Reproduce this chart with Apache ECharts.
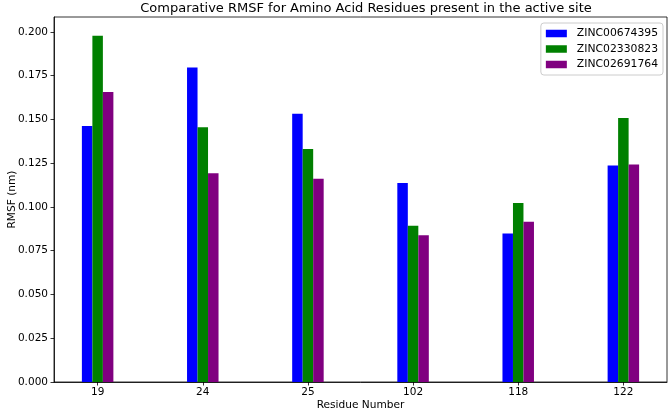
<!DOCTYPE html>
<html>
<head>
<meta charset="utf-8">
<script src="https://cdn.jsdelivr.net/npm/echarts@6/dist/echarts.min.js"></script>
<style>html,body{margin:0;padding:0;background:#fff}#c{width:669px;height:415px}</style>
</head>
<body>
<div id="c"></div>
<script>
const residues = ['19', '24', '25', '102', '118', '122'];
const zinc00674395 = [0.1463, 0.1797, 0.1532, 0.1137, 0.0848, 0.1237];
const zinc02330823 = [0.1978, 0.1455, 0.1331, 0.0893, 0.1023, 0.1508];
const zinc02691764 = [0.1657, 0.1193, 0.1161, 0.0838, 0.0915, 0.1243];
const seriesNames = ['ZINC00674395', 'ZINC02330823', 'ZINC02691764'];
const seriesColors = ['#0000ff', '#008000', '#800080'];
const yTicks = [0, 0.025, 0.05, 0.075, 0.1, 0.125, 0.15, 0.175, 0.2];

const font = 'DejaVu Sans';
const xIdx = residues.map((r, i) => i);
const mk = arr => arr.map((v, i) => [i, v]);
const allData = [zinc00674395, zinc02330823, zinc02691764];

const chart = echarts.init(document.getElementById('c'), null, {renderer: 'canvas'});
chart.setOption({
  animation: false,
  backgroundColor: '#fff',
  title: {
    text: 'Comparative RMSF for Amino Acid Residues present in the active site',
    left: 361, top: -3, textAlign: 'center',
    textStyle: {fontFamily: font, fontSize: 13, fontWeight: 'normal', color: '#000'}
  },
  legend: {
    orient: 'vertical', right: 6, top: 23,
    data: seriesNames,
    itemWidth: 21, itemHeight: 7.5, itemGap: 2.5,
    padding: [4, 5, 4, 5],
    borderColor: '#cccccc', borderWidth: 1, borderRadius: 3,
    backgroundColor: 'rgba(255,255,255,0.8)',
    icon: 'rect',
    textStyle: {fontFamily: font, fontSize: 10.8, color: '#000', lineHeight: 13, padding: [0, 0, 0, 5]}
  },
  grid: {left: 54, right: 2, top: 17, bottom: 33, containLabel: false, outerBoundsMode: 'none',
    show: true, borderColor: '#000', borderWidth: 0.8, backgroundColor: 'transparent'},
  xAxis: {
    type: 'value', min: -0.415, max: 5.415,
    name: 'Residue Number', nameLocation: 'middle', nameGap: 18, nameMoveOverlap: false,
    nameTextStyle: {fontFamily: font, fontSize: 10.6, color: '#000', verticalAlign: 'top'},
    axisLine: {show: true, onZero: false, lineStyle: {color: '#000', width: 0.8}},
    axisTick: {show: true, length: 3.5, lineStyle: {color: '#000', width: 0.8}, customValues: xIdx},
    axisLabel: {fontFamily: font, fontSize: 10.5, color: '#000', margin: 5, customValues: xIdx,
      formatter: v => residues[Math.round(v)]},
    splitLine: {show: false}
  },
  yAxis: {
    type: 'value', min: 0, max: 0.2085,
    name: 'RMSF (nm)', nameLocation: 'middle', nameGap: 36, nameMoveOverlap: false,
    nameTextStyle: {fontFamily: font, fontSize: 10.6, color: '#000'},
    axisLine: {show: true, onZero: false, lineStyle: {color: '#000', width: 0.8}},
    axisTick: {show: true, length: 3.5, lineStyle: {color: '#000', width: 0.8}, customValues: yTicks},
    axisLabel: {fontFamily: font, fontSize: 10.5, color: '#000', margin: 6, customValues: yTicks,
      formatter: v => v.toFixed(3)},
    splitLine: {show: false}
  },
  series: seriesNames.map((n, k) => ({
    name: n, type: 'bar', data: mk(allData[k]),
    barWidth: 10.5, barGap: 0,
    itemStyle: {color: seriesColors[k]}
  }))
});
</script>
</body>
</html>
